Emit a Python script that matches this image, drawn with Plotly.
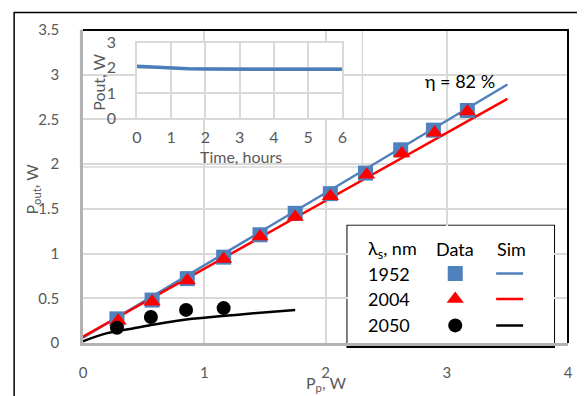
import plotly.graph_objects as go

# ---------------- data ----------------
pump_1952 = [0.28, 0.57, 0.86, 1.16, 1.46, 1.75, 2.04, 2.33, 2.62, 2.89, 3.17]
pout_1952 = [0.27, 0.48, 0.72, 0.96, 1.21, 1.45, 1.67, 1.90, 2.16, 2.38, 2.60]
pump_2004 = [0.29, 0.57, 0.86, 1.16, 1.46, 1.75, 2.04, 2.34, 2.63, 2.90, 3.17]
pout_2004 = [0.25, 0.46, 0.70, 0.94, 1.19, 1.41, 1.64, 1.88, 2.12, 2.35, 2.59]
pump_2050 = [0.28, 0.56, 0.85, 1.16]
pout_2050 = [0.17, 0.29, 0.37, 0.39]

sim_pump = [0.0, 3.5]
sim_1952 = [0.06, 2.89]
sim_2004 = [0.07, 2.73]
sim_pump_2050 = [0.0, 0.2, 0.4, 0.6, 0.9, 1.3, 1.75]
sim_2050 = [0.02, 0.11, 0.16, 0.21, 0.27, 0.32, 0.37]

time_h = [0.0, 0.25, 0.5, 0.75, 1.0, 1.25, 1.5, 2.0, 3.0, 4.0, 5.0, 5.5, 6.0]
pout_time = [2.06, 2.04, 2.02, 2.00, 1.98, 1.97, 1.96, 1.95, 1.95, 1.95, 1.95, 1.95, 1.94]

legend_header = ["λ<sub>s</sub>, nm", "Data", "Sim"]
legend_labels = ["1952", "2004", "2050"]
eta_text = "η = 82 %"

BLUE = "#4f81bd"
RED = "#ff0000"
BLACK = "#000000"
GRID = "#d9d9d9"
TXT = "#595959"
FONT = "Lato"

# reference pixel geometry (plot area x 83..569, y 23..343 in a 585x396 picture);
# the page adds an 8px body margin, so the figure is 8px smaller.
L, R, T, B = 83, 569, 23, 343
PAGE = 8
W, H = 585 - PAGE, 396 - PAGE
def px(x):
    return (x - L) / (R - L)
def py(y):
    return (B - y) / (B - T)

fig = go.Figure()

# ---- main traces ----
fig.add_trace(go.Scatter(x=sim_pump, y=sim_1952, mode="lines",
                         line=dict(color=BLUE, width=2.5), xaxis="x", yaxis="y"))
fig.add_trace(go.Scatter(x=sim_pump, y=sim_2004, mode="lines",
                         line=dict(color=RED, width=2.5), xaxis="x", yaxis="y"))
fig.add_trace(go.Scatter(x=sim_pump_2050, y=sim_2050, mode="lines",
                         line=dict(color=BLACK, width=2.5, shape="spline"), xaxis="x", yaxis="y"))
fig.add_trace(go.Scatter(x=pump_1952, y=pout_1952, mode="markers",
                         marker=dict(symbol="square", size=15, color=BLUE), xaxis="x", yaxis="y"))
fig.add_trace(go.Scatter(x=pump_2004, y=pout_2004, mode="markers",
                         marker=dict(symbol="triangle-up", size=15, color=RED), xaxis="x", yaxis="y"))
fig.add_trace(go.Scatter(x=pump_2050, y=pout_2050, mode="markers",
                         marker=dict(symbol="circle", size=14, color=BLACK), xaxis="x", yaxis="y"))

# ---- inset trace ----
fig.add_trace(go.Scatter(x=time_h, y=pout_time, mode="lines",
                         line=dict(color="#4a7ebb", width=3.5), xaxis="x2", yaxis="y2"))

# ---- legend table (own hidden axes, pixel units) ----
LX0, LX1, LY0, LY1 = 348, 555, 223, 343
row_y = [272, 298, 325]
data_x = 456
sim_x0, sim_x1 = 497, 524
fig.add_trace(go.Scatter(x=[data_x], y=[row_y[0]], mode="markers",
                         marker=dict(symbol="square", size=15, color=BLUE), xaxis="x3", yaxis="y3"))
fig.add_trace(go.Scatter(x=[data_x], y=[row_y[1]], mode="markers",
                         marker=dict(symbol="triangle-up", size=15, color=RED), xaxis="x3", yaxis="y3"))
fig.add_trace(go.Scatter(x=[data_x], y=[row_y[2]], mode="markers",
                         marker=dict(symbol="circle", size=14, color=BLACK), xaxis="x3", yaxis="y3"))
for yy, col in zip(row_y, [BLUE, RED, BLACK]):
    fig.add_trace(go.Scatter(x=[sim_x0, sim_x1], y=[yy, yy], mode="lines",
                             line=dict(color=col, width=2.5), xaxis="x3", yaxis="y3"))

def note(x, y, text, xref="paper", yref="paper", size=16, color=TXT, angle=0, xanchor="center"):
    return dict(x=x, y=y, xref=xref, yref=yref, text=text, showarrow=False,
                xanchor=xanchor, yanchor="middle", textangle=angle,
                font=dict(size=size, color=color, family=FONT))

ann = []
ann.append(note(367, 247, legend_header[0], "x3", "y3", 18, BLACK, xanchor="left"))
ann.append(note(data_x, 247, legend_header[1], "x3", "y3", 18, BLACK))
ann.append(note(512, 247, legend_header[2], "x3", "y3", 18, BLACK))
for yy, lab in zip(row_y, legend_labels):
    ann.append(note(367, yy, lab, "x3", "y3", 18, BLACK, xanchor="left"))

# efficiency label
ann.append(note(3.11, 2.93, eta_text, "x", "y", 18, BLACK))
# axis titles
ann.append(note(px(32), py(186), "P<sub>out</sub>, W", angle=-90))
ann.append(note(px(326), py(384), "P<sub>p</sub>, W"))
ann.append(note(px(99), py(76), "Pout, W", angle=-90))
ann.append(note(px(241), py(152), "Time, hours"))

# inset domain
IX0, IX1, IY0, IY1 = 137, 343, 36, 113
shapes = []
# inset white chart area (covers main grid)
shapes.append(dict(type="rect", xref="x2 domain", yref="y2 domain", layer="below",
                   x0=(80.5 - IX0) / (IX1 - IX0), x1=(363 - IX0) / (IX1 - IX0),
                   y0=(IY1 - 163) / (IY1 - IY0), y1=(IY1 - 23) / (IY1 - IY0),
                   fillcolor="white", line=dict(color=GRID, width=1.5)))
# legend box
shapes.append(dict(type="rect", xref="x3 domain", yref="y3 domain", layer="below",
                   x0=0, x1=1, y0=-(347 - LY1) / (LY1 - LY0), y1=1,
                   fillcolor="white", line=dict(color=BLACK, width=2)))
# main top/right black border
shapes.append(dict(type="path", xref="paper", yref="paper", layer="above",
                   path="M 0,1 L 1,1 L 1,0", line=dict(color=BLACK, width=2)))
# outer chart frame
shapes.append(dict(type="rect", xref="paper", yref="paper", layer="below",
                   x0=px(14), x1=px(600), y0=py(410), y1=py(5),
                   line=dict(color=BLACK, width=1.5), fillcolor="rgba(0,0,0,0)"))

tickfont = dict(size=15, color=TXT, family=FONT)

fig.update_layout(
    width=W, height=H,
    margin=dict(l=L - PAGE, r=585 - R, t=T - PAGE, b=396 - B),
    paper_bgcolor="white", plot_bgcolor="white",
    showlegend=False,
    font=dict(family=FONT),
    annotations=ann, shapes=shapes,
    xaxis=dict(domain=[0, 1], range=[0, 4], dtick=1, tick0=0, showgrid=True, gridcolor=GRID,
               gridwidth=1.5, zeroline=False, showline=True, linecolor="#b3b3b3", linewidth=2.5,
               ticks="", ticklabelstandoff=14, tickfont=tickfont, anchor="y"),
    yaxis=dict(domain=[0, 1], range=[0, 3.5], dtick=0.5, tick0=0, showgrid=True, gridcolor=GRID,
               gridwidth=1.5, zeroline=False, showline=True, linecolor="#b3b3b3", linewidth=2.5,
               ticks="", ticklabelstandoff=18, tickfont=tickfont, anchor="x"),
    xaxis2=dict(domain=[px(IX0), px(IX1)], range=[0, 6], dtick=1, tick0=0, showgrid=True,
                gridcolor=GRID, gridwidth=1.5, zeroline=False, showline=True, mirror=True,
                linecolor=GRID, linewidth=1.5, ticks="", ticklabelstandoff=4,
                tickfont=dict(size=16, color=TXT, family=FONT), anchor="y2"),
    yaxis2=dict(domain=[py(IY1), py(IY0)], range=[0, 3], dtick=1, tick0=0, showgrid=True,
                gridcolor=GRID, gridwidth=1.5, zeroline=False, showline=True, mirror=True,
                linecolor=GRID, linewidth=1.5, ticks="", ticklabelstandoff=16,
                tickfont=dict(size=16, color=TXT, family=FONT), anchor="x2"),
    xaxis3=dict(domain=[px(LX0), px(LX1)], range=[LX0, LX1], visible=False, anchor="y3"),
    yaxis3=dict(domain=[py(LY1), py(LY0)], range=[LY1, LY0], visible=False, anchor="x3"),
)

fig.write_html("out.html")
